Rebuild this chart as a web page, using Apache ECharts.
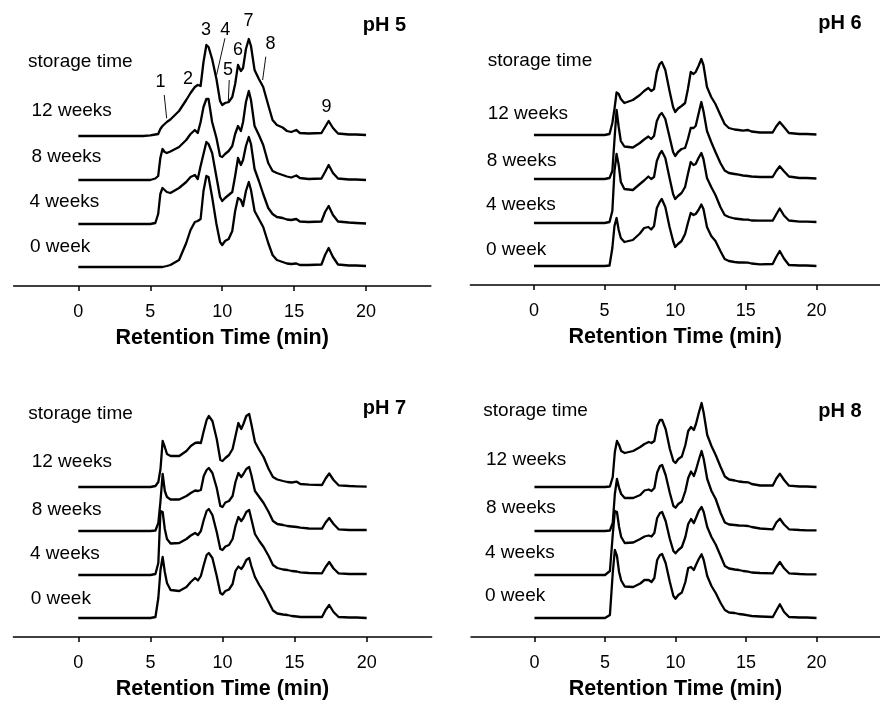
<!DOCTYPE html>
<html><head><meta charset="utf-8">
<script src="https://cdn.jsdelivr.net/npm/echarts@6/dist/echarts.min.js"></script>
<style>html,body{margin:0;padding:0;background:#fff}#c{width:880px;height:704px}</style>
</head><body><div id="c"></div>
<script>
// ---- data ----
const retentionTime = [0, 4.5, 5.0, 5.35, 5.55, 5.7, 5.85, 6.0, 6.15, 6.4,
  7.0, 7.5, 7.8, 8.1, 8.3, 8.5, 8.7, 8.9, 9.05, 9.3,
  9.6, 9.85, 10.0, 10.2, 10.45, 10.7, 10.9, 11.1, 11.3, 11.45,
  11.65, 11.85, 12.0, 12.25, 12.55, 12.85, 13.2, 13.5, 13.8, 14.2,
  14.5, 14.8, 15.15, 15.4, 16.0, 16.9, 17.15, 17.4, 17.7, 18.05,
  18.8, 19.3, 20];
const storageTimes = ['0 week', '4 weeks', '8 weeks', '12 weeks'];
const panelNames = ['pH 5', 'pH 6', 'pH 7', 'pH 8'];
const xTickValues = [0, 5, 10, 15, 20];
const traceOffsets = [0, 43, 87, 131];

const pH5_0week = [0,0,0,0,0,0,0,0.5,1,2, 7,24,37,45,46,48,76,91,90,70, 43,25,22,26,28,36,56,69,67,61, 76,85,77,56,48,40,24,12,7,5, 3.5,3,3.5,2,2,2.5,12,19,10,2.5, 1.5,1.5,1];
const pH5_4weeks = [0,0,0,1,10,30,36,34,32,31, 36,42,47,49,45,58,70,82,80,71, 47,27,23,26,29,32,48,66,59,64, 78,87,80,55,43,30,16,10,7,6, 4.5,4,5,2.5,2,2.5,12,18,9,2.5, 1.5,1,0.5];
const pH5_8weeks = [0,0,0,1.5,4,22,31,28,27,28.5, 33,40,46,50,47,58,73,81,81,58, 42,24,23,26,29,34,46,54,49,58, 78,89,80,54,45,35,17,9,7,5, 3.5,2.5,4.5,2,1,1.5,8,15,7,1.5, 0.5,0.5,0];
const pH5_12weeks = [0,0,0.7,1.5,2,7,10,12,14,16.5, 25,36,43,49,51,50,74,91,89,77, 57,35,31,33,34,39,52,71,65,68, 87,97,90,66,57,49,31,16,11,8.5, 5,4,6,3,2.5,3,9,15,8,2.5, 1.5,1.5,1];

const pH6_0week = [0,0,0,0.5,18,40,48,36,28,24, 26,32.5,38,39,36.5,40,58,64,67,59, 39,25,19,22,25,32,43,53,51,52, 56,61.5,57,39,30,25,15,7,5,4, 3.5,3.5,3.3,2.5,1.7,2,9,15,7.5,1, 0.5,0.5,0];
const pH6_4weeks = [0,0,0,1,12,52,69,58,41,34, 33,39,42.5,46.5,44,46,62,69,72,65, 45,29,24,27,30,36,49,61,58,59, 65,70,64,45,36,28,16,8,6,4.5, 4,3.5,3.3,2.5,2.3,2.3,8.5,14.5,7.5,2.5, 1.3,1.3,1];
const pH6_8weeks = [0,0,0,1,8,39,69,52,38,32.5, 31.5,36,39.5,42.5,40,43,58,64,66,60, 42,27,23,27,30,31,40,51,51,53, 65,77,68,48,37,27,16,8.5,6,5, 4.3,3.5,3,2.5,2,2,8,12.7,7.7,2.5, 1,1,0.5];
const pH6_12weeks = [0,0,0,1,12,26,42.5,41,36,32, 35,40,44,47,44,46,63,71,73,65, 44,28,23,26.5,29,32,46,63,61,63, 69,76,70,48,38,31,20,11,7,5.5, 5,4.3,5,3.5,2.5,2.5,8.5,13,8,2, 1,1,0.5];

const pH7_0week = [0,0,0,1,20,48,61,46,35,28, 27,31,36,40,37.5,42,53,63,65,60, 42,25,23.5,27,28.5,34,47,51.5,49,52, 58,60,52,41,33,26,16,7.5,4.5,3.5, 3,2,1.5,1,1,1,8,13,6,1, 0.5,0.5,0];
const pH7_4weeks = [0,0,0,1,12,64,63,46,36,31.5, 32,36,39.5,42,40,44,55,64,66,60, 43,26,25,28.5,30,36,49,58,54,57, 63,65,56,41,34,28,19,10,7,5.5, 5,4,3.5,2.7,2,1.7,8,13,6.5,1.7, 1,1,1];
const pH7_8weeks = [0,0,0,0.5,8,30,57,40,34,31.5, 31.5,35,38,40.5,40,41,55,61,63,58, 43,25,24,28.5,30,35,49,58,54,57, 62,64,56,40,34,28,19,10,7,6, 5,4.5,4,3.3,2.5,2.3,8.5,13,7,1.7, 1,1,1];
const pH7_12weeks = [0,0,0,1,5,18,46,40,33,31, 31,36,41,44,44.5,44,56,67,71,66, 48,27,26,29,32,38,51,64,58,63, 71,73,63,45,37,30,18,10,7.5,6, 5,4.5,5.3,3,2.3,2,8.5,13.5,7,1.7, 1,0.7,0.3];

const pH8_0week = [0,0,0,3,45,68,62,46,37.5,31.5, 31,34.5,38,38,36,40,58,63,64,55, 36,22,19.3,23,25.5,36,50,51,48,53, 59,63.7,58,42,32,25,15,8,5.5,5, 4,3.5,2.7,2,1.5,1,7.5,13.7,6,1, 0.5,0.5,0];
const pH8_4weeks = [0,0,0,4,40,64,63,48,38,32, 32.5,36,38.5,39.5,38.5,42,57,62,63,54, 36,24,21.7,25,28,38,51,56,52,57, 64,68,63,48,38,30.5,19,9,6.5,5.5, 5,4,3.3,2.5,2,1.7,8,13,6.7,1.7, 1,0.7,0.7];
const pH8_8weeks = [0,0,0,0.5,8,37,52,43,37,33, 33,36,40.5,41.5,40,43,58.5,65,66,56, 38,25,23.3,27,29.5,40,53,59.5,55,61, 71,80,72,52,40,32,18,8.5,6.5,6, 5.5,5.3,5,4,2.5,1.7,8.5,12.3,6.5,1.7, 1,0.7,0.7];
const pH8_12weeks = [0,0,0,0.5,10,35,46,42,36,34, 36,40,43,45,44,46,61,67,67,58, 38,26,24,28,30.5,42,56,60,57,63, 74,84,74,52,41,32,20,10.5,7.5,6.5, 5.5,5,4.7,3,1.5,1.5,8.5,13.3,7,1.3, 0.5,0.5,0];

const panelTraces = [
  [pH5_0week, pH5_4weeks, pH5_8weeks, pH5_12weeks],
  [pH6_0week, pH6_4weeks, pH6_8weeks, pH6_12weeks],
  [pH7_0week, pH7_4weeks, pH7_8weeks, pH7_12weeks],
  [pH8_0week, pH8_4weeks, pH8_8weeks, pH8_12weeks]
];

// peak numbering annotations (pH 5 panel), in axis units
const peakNames = ['1','2','3','4','5','6','7','8','9'];
const peakNameTime = [5.72, 7.62, 8.87, 10.22, 10.4, 11.09, 11.82, 13.35, 17.25];
const peakNameLevel = [185.3, 188, 236.5, 237, 197, 217, 245.5, 222.5, 159.5];
const leaderLines = [
  [[5.97, 172], [6.14, 148.7]],
  [[10.19, 228.7], [9.61, 192]],
  [[10.49, 187], [10.42, 163.7]],
  [[13.03, 210.3], [12.81, 187]]
];

// ---- layout ----
const FONT = '"Liberation Sans", Arial, Helvetica, sans-serif';
const grids = [
  {left: 13.6, top: 6, width: 417.2, height: 280},
  {left: 470.4, top: 5, width: 416.6, height: 280},
  {left: 13.4, top: 357, width: 418.2, height: 280},
  {left: 471, top: 357, width: 417, height: 280}
];
const labelLayout = [
  {xs: [28, 31.5, 31.5, 29.5, 30], ys: [62, 110.5, 156.5, 201.5, 246.5], ph: [406, 25]},
  {xs: [487.7, 487.7, 486.7, 486, 486], ys: [61, 113.3, 160.7, 205, 249.3], ph: [861.7, 23.3]},
  {xs: [28.3, 31.7, 31.7, 30, 30.7], ys: [413.3, 461.7, 509.3, 554, 598.3], ph: [406, 408.3]},
  {xs: [483.3, 486, 486, 485, 485], ys: [411, 460, 507.3, 552.3, 596], ph: [861.7, 411.7]}
];

const xAxes = [], yAxes = [], series = [], graphics = [];
grids.forEach((g, p) => {
  xAxes.push({
    type: 'value', gridIndex: p, min: -4.5, max: 24.5,
    axisLine: {show: true, onZero: false, lineStyle: {color: '#000', width: 1.5}},
    axisTick: {show: true, customValues: xTickValues, length: 5, inside: false, lineStyle: {color: '#000', width: 1.5}},
    axisLabel: {show: true, customValues: xTickValues, fontSize: 18, color: '#000', margin: 17, fontFamily: FONT},
    splitLine: {show: false},
    name: 'Retention Time (min)', nameLocation: 'middle', nameGap: 41,
    nameTextStyle: {fontSize: 21.5, fontWeight: 'bold', color: '#000', fontFamily: FONT}
  });
  yAxes.push({type: 'value', gridIndex: p, min: -19, max: 261, show: false});
  panelTraces[p].forEach((vals, k) => {
    series.push({
      type: 'line', xAxisIndex: p, yAxisIndex: p, name: panelNames[p] + ' ' + storageTimes[k],
      data: retentionTime.map((t, i) => [t, vals[i] + traceOffsets[k]]),
      showSymbol: false, symbol: 'none', silent: true,
      lineStyle: {color: '#000', width: 2.3, join: 'round'}
    });
  });
  const L = labelLayout[p];
  const texts = ['storage time', storageTimes[3], storageTimes[2], storageTimes[1], storageTimes[0]];
  texts.forEach((s, j) => {
    graphics.push({type: 'text', x: L.xs[j], y: L.ys[j], silent: true,
      style: {text: s, fill: '#000', font: '19px ' + FONT, align: 'left', verticalAlign: 'middle'}});
  });
  graphics.push({type: 'text', x: L.ph[0], y: L.ph[1], silent: true,
    style: {text: panelNames[p], fill: '#000', font: 'bold 20px ' + FONT, align: 'right', verticalAlign: 'middle'}});
});

series.push({
  type: 'scatter', xAxisIndex: 0, yAxisIndex: 0, silent: true, symbolSize: 0,
  itemStyle: {color: '#000', opacity: 1},
  label: {show: true, position: 'inside', formatter: (d) => d.name, fontSize: 18, color: '#000',
    opacity: 1, textBorderWidth: 0, fontFamily: FONT},
  data: peakNames.map((n, i) => ({name: n, value: [peakNameTime[i], peakNameLevel[i]]}))
});
leaderLines.forEach((seg) => {
  series.push({type: 'line', xAxisIndex: 0, yAxisIndex: 0, silent: true, showSymbol: false, symbol: 'none',
    data: seg, lineStyle: {color: '#111', width: 1}});
});

const chart = echarts.init(document.getElementById('c'), null, {renderer: 'canvas'});
chart.setOption({
  animation: false,
  backgroundColor: '#fff',
  grid: grids,
  xAxis: xAxes,
  yAxis: yAxes,
  series: series,
  graphic: graphics
});
</script>
</body></html>
